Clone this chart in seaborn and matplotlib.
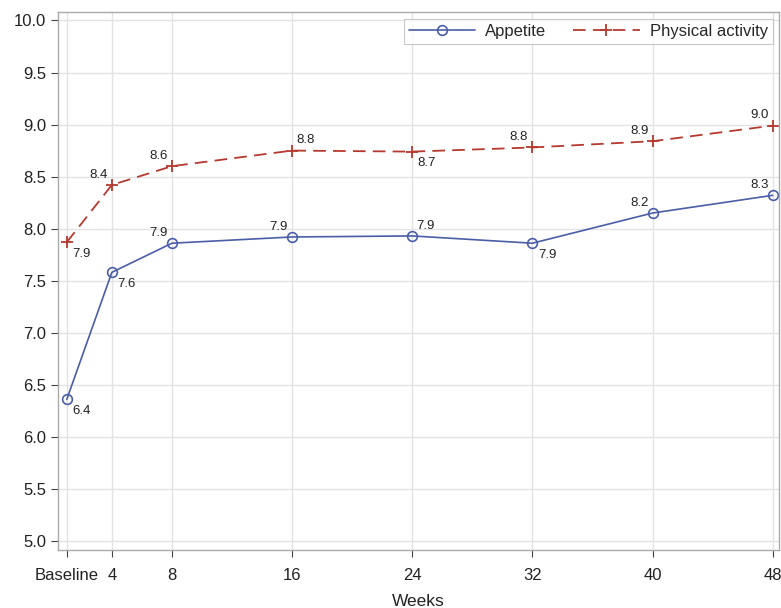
import matplotlib
matplotlib.use("Agg")
import matplotlib.pyplot as plt
import seaborn as sns
import pandas as pd

weeks = [1, 4, 8, 16, 24, 32, 40, 48]
tick_labels = ["Baseline", "4", "8", "16", "24", "32", "40", "48"]
appetite = [6.36, 7.58, 7.86, 7.92, 7.93, 7.86, 8.15, 8.32]
appetite_labels = ["6.4", "7.6", "7.9", "7.9", "7.9", "7.9", "8.2", "8.3"]
physical = [7.87, 8.42, 8.60, 8.75, 8.74, 8.78, 8.84, 8.99]
physical_labels = ["7.9", "8.4", "8.6", "8.8", "8.7", "8.8", "8.9", "9.0"]
# label placement: 'br' below-right, 'al' above-left, 'ar' above-right
appetite_pos = ["br", "br", "al", "al", "ar", "br", "al", "al"]
physical_pos = ["br", "al", "al", "ar", "br", "al", "al", "al"]

sns.set_theme(style="whitegrid")
plt.rcParams['font.family'] = ['Liberation Sans', 'DejaVu Sans']

blue = "#4a5ea8"
red = "#b5392e"

df = pd.DataFrame({
    "Weeks": weeks * 2,
    "Score": appetite + physical,
    "Series": ["Appetite"] * len(weeks) + ["Physical activity"] * len(weeks),
})

fig = plt.figure(figsize=(7.81, 6.08), dpi=100)
ax = fig.add_axes([0.074, 0.095, 0.924, 0.885])

sns.lineplot(data=df[df.Series == "Appetite"], x="Weeks", y="Score", ax=ax,
             color=blue, lw=1.2, marker="o", markersize=7, markerfacecolor="none",
             markeredgecolor=blue, markeredgewidth=1.2, label="Appetite")
sns.lineplot(data=df[df.Series == "Physical activity"], x="Weeks", y="Score", ax=ax,
             color=red, lw=1.3, marker="+", markersize=9, markeredgewidth=1.3,
             markeredgecolor=red, label="Physical activity")
ax.lines[-1].set_dashes([7, 4])

offs = {"br": (4, -4, "left", "top"), "al": (-3, 3, "right", "bottom"), "ar": (3, 3, "left", "bottom")}
for vals, labs, poss in [(appetite, appetite_labels, appetite_pos), (physical, physical_labels, physical_pos)]:
    for x, y, t, p in zip(weeks, vals, labs, poss):
        dx, dy, ha, va = offs[p]
        ax.annotate(t, (x, y), xytext=(dx, dy), textcoords="offset points",
                    ha=ha, va=va, fontsize=9.5, color="#222222")

ax.set_xlim(0.4, 48.45)
ax.set_ylim(4.91, 10.08)
ax.set_xticks(weeks)
ax.set_xticklabels(tick_labels)
ax.set_yticks([5.0 + 0.5 * i for i in range(11)])
ax.set_yticklabels([f"{5.0 + 0.5 * i:.1f}" for i in range(11)])
ax.set_xlabel("Weeks", fontsize=12.5, color="#222222", labelpad=8)
ax.set_ylabel("")
ax.tick_params(axis="both", labelsize=12, colors="#444444", length=5, width=0.8,
               direction="out", bottom=True, left=True)
ax.tick_params(axis="x", pad=8)
for t in ax.get_xticklabels() + ax.get_yticklabels():
    t.set_color("#222222")
ax.grid(True, color="#e3e3e3", lw=1)
for s in ax.spines.values():
    s.set_color("#aaaaaa")
    s.set_linewidth(1.0)

leg = ax.legend(loc="upper right", ncol=2, frameon=True, fontsize=12,
                handlelength=4.0, columnspacing=1.6, borderpad=0.3,
                handletextpad=0.6, borderaxespad=0.4, fancybox=False)
leg.get_frame().set_edgecolor("#bbbbbb")
leg.get_frame().set_linewidth(0.8)
leg.get_lines()[1].set_dashes([7, 4])

fig.savefig("out.png", dpi=100)
